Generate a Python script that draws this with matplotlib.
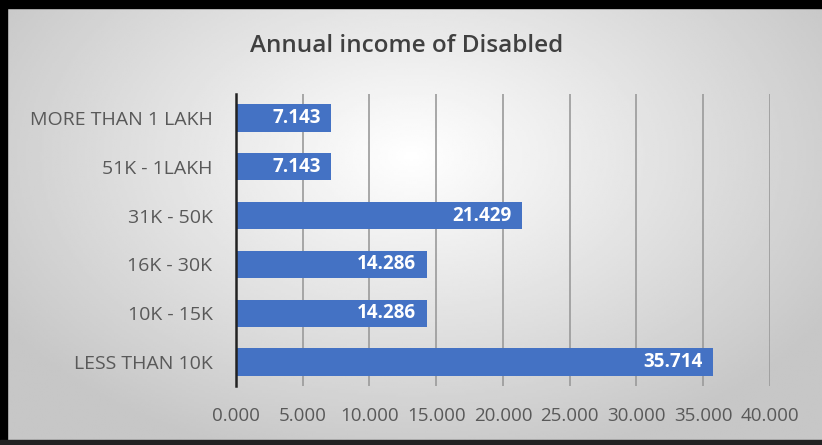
import numpy as np
import matplotlib
matplotlib.use("Agg")
from matplotlib import pyplot as plt
from matplotlib.patches import Rectangle

# income groups, bottom to top as drawn
categories = ["LESS THAN 10K", "10K - 15K", "16K - 30K", "31K - 50K", "51K - 1LAKH", "MORE THAN 1 LAKH"]
values = [35.714, 14.286, 14.286, 21.429, 7.143, 7.143]
x_ticks = [0, 5, 10, 15, 20, 25, 30, 35, 40]

plt.rcParams['font.family'] = ['Open Sans', 'DejaVu Sans']

fig = plt.figure(figsize=(8.22, 4.45), dpi=100)

# soft grey backdrop, lighter towards the middle
bg = fig.add_axes([0, 0, 1, 1], zorder=-10)
yy, xx = np.mgrid[0:1:200j, 0:1:400j]
dist = np.sqrt(((xx - 0.5) / 0.75) ** 2 + ((yy - 0.35) / 0.9) ** 2)
shade = np.clip(1.0 - 0.28 * dist, 0.78, 1.0)
bg.imshow(shade, cmap='gray', vmin=0, vmax=1, aspect='auto', extent=[0, 1, 0, 1], origin='upper')
bg.set_axis_off()

ax = fig.add_axes([0.2871, 0.1317, 0.6496, 0.658])
ax.patch.set_alpha(0)

bars = ax.barh(categories, values, height=0.56, color='#4472C4', zorder=3)
for bar, v in zip(bars, values):
    ax.text(bar.get_width() - 0.8, bar.get_y() + bar.get_height() / 2, f"{v:.3f}",
            ha='right', va='center', color='white', fontsize=13.5, fontweight='bold', zorder=4)

ax.set_xlim(0, 40)
ax.set_ylim(-0.5, 5.5)
ax.set_xticks(x_ticks)
ax.set_xticklabels([f"{t:.3f}" for t in x_ticks], fontsize=13.5, color='#595959')
ax.tick_params(axis='x', length=0, pad=15)
ax.tick_params(axis='y', length=0, pad=17, labelsize=14, labelcolor='#595959')
ax.xaxis.grid(True, color='#9a9a9a', linewidth=1.2, zorder=0)
for side in ['top', 'right', 'bottom']:
    ax.spines[side].set_visible(False)
ax.spines['left'].set_color('#222222')
ax.spines['left'].set_linewidth(1.8)
ax.spines['left'].set_zorder(5)

fig.text(0.495, 0.897, "Annual income of Disabled", ha='center', va='center',
         fontsize=17.5, fontweight='semibold', color='#404040')

# dark frame on top, left and bottom edges
fig.patches.append(Rectangle((0, 0.982), 1, 0.018, transform=fig.transFigure, color='black', zorder=20))
fig.patches.append(Rectangle((0, 0), 0.009, 1, transform=fig.transFigure, color='black', zorder=20))
fig.patches.append(Rectangle((0, 0), 1, 0.011, transform=fig.transFigure, color='#222222', zorder=20))

fig.savefig("out.png", dpi=100)
